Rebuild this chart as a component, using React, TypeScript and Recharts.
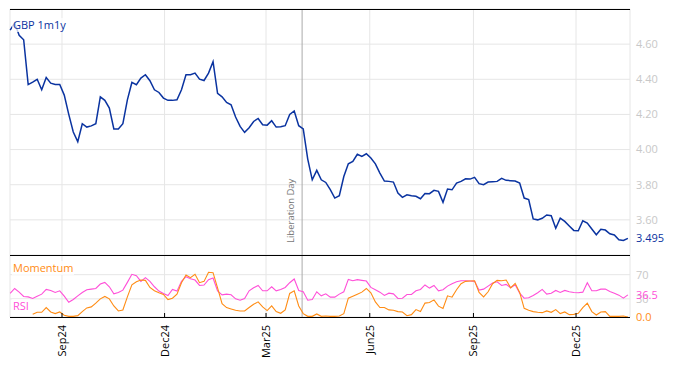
import { LineChart, Line, XAxis, YAxis, CartesianGrid, ReferenceLine } from "recharts";

// sampled every 4 calendar days from 17 Jul 2024
const START = Date.UTC(2024, 6, 17);
const STEP_DAYS = 4;
const DAY = 86400000;

const gbp1m1y = [
  4.68, 4.72, 4.65, 4.625, 4.37, 4.384, 4.4, 4.34, 4.41, 4.378,
  4.37, 4.37, 4.31, 4.2, 4.1, 4.045, 4.147, 4.128, 4.135, 4.147,
  4.3, 4.28, 4.236, 4.117, 4.117, 4.147, 4.283, 4.382, 4.369, 4.407,
  4.426, 4.392, 4.34, 4.325, 4.293, 4.28, 4.28, 4.283, 4.34, 4.426,
  4.426, 4.435, 4.401, 4.393, 4.435, 4.5, 4.32, 4.3, 4.268, 4.255,
  4.185, 4.132, 4.098, 4.124, 4.16, 4.177, 4.141, 4.139, 4.164, 4.128,
  4.13, 4.136, 4.2, 4.22, 4.136, 4.117, 3.946, 3.828, 3.882, 3.828,
  3.813, 3.772, 3.724, 3.737, 3.847, 3.919, 3.933, 3.973, 3.961, 3.976,
  3.952, 3.919, 3.866, 3.821, 3.819, 3.815, 3.753, 3.728, 3.743, 3.737,
  3.734, 3.72, 3.75, 3.749, 3.768, 3.762, 3.7, 3.775, 3.771, 3.809,
  3.819, 3.834, 3.832, 3.842, 3.806, 3.8, 3.815, 3.817, 3.819, 3.836,
  3.825, 3.823, 3.821, 3.809, 3.724, 3.715, 3.605, 3.6, 3.609, 3.628,
  3.624, 3.552, 3.61, 3.591, 3.565, 3.54, 3.538, 3.595, 3.582, 3.548,
  3.515, 3.546, 3.542, 3.521, 3.514, 3.487, 3.483, 3.495,
];

const rsi = [
  38.9, 47.2, 41.1, 33.9, 33.3, 30.6, 34.4, 37.8, 45.6, 43.9,
  40.6, 43.3, 34.4, 24.4, 28.9, 35.0, 40.6, 45.0, 46.1, 47.2,
  54.4, 57.2, 50.0, 38.3, 40.6, 44.4, 57.2, 70.6, 68.3, 58.9,
  65.0, 58.9, 50.0, 42.8, 38.9, 35.6, 45.6, 42.8, 58.9, 66.7,
  63.3, 61.1, 52.2, 52.8, 61.7, 64.4, 43.0, 36.7, 37.8, 36.7,
  30.0, 27.8, 30.6, 43.3, 48.3, 52.2, 43.3, 43.3, 50.0, 43.3,
  45.6, 48.9, 56.7, 62.8, 43.9, 41.7, 27.8, 28.9, 41.7, 35.0,
  38.3, 32.8, 32.8, 37.8, 41.7, 62.2, 60.0, 61.7, 60.6, 59.4,
  48.9, 45.0, 41.1, 35.6, 39.4, 38.3, 30.6, 31.1, 37.2, 37.2,
  43.3, 45.6, 53.0, 47.8, 52.2, 43.3, 45.0, 51.1, 55.0, 58.3,
  60.0, 60.0, 59.4, 58.9, 44.4, 46.1, 51.1, 56.1, 58.3, 52.2,
  53.9, 48.3, 53.3, 39.4, 31.1, 31.7, 35.6, 40.0, 45.6, 37.8,
  39.4, 43.9, 40.6, 43.9, 41.7, 40.6, 40.0, 41.1, 56.7, 43.3,
  43.3, 46.1, 46.1, 42.2, 39.4, 36.1, 31.1, 36.5,
];

const momentum = [
  null, null, null, null, null, 4.4, 7.8, 7.8, 15.6, 8.3,
  5.6, 8.3, 2.8, 1.1, 1.1, 2.2, 8.9, 15.0, 16.7, 22.8,
  30.0, 33.9, 30.0, 18.3, 10.0, 11.7, 33.3, 53.3, 58.3, 61.1,
  60.6, 48.9, 43.3, 40.0, 37.2, 28.9, 31.1, 37.8, 56.7, 69.4,
  65.0, 70.6, 56.7, 58.9, 73.9, 73.3, 48.0, 22.2, 15.6, 13.3,
  11.1, 10.0, 10.0, 15.6, 21.1, 25.0, 16.7, 10.6, 18.3, 8.9,
  6.1, 11.7, 38.9, 43.3, 18.3, 5.6, 1.1, 1.1, 5.0, 1.1,
  1.7, 1.1, 1.1, 1.7, 5.6, 31.1, 34.4, 37.8, 41.1, 47.2,
  40.0, 25.0, 15.6, 15.6, 11.7, 11.1, 8.9, 8.3, 2.2, 3.9,
  12.2, 8.9, 23.0, 23.9, 28.3, 18.0, 14.0, 35.0, 32.8, 45.0,
  55.0, 58.9, 59.4, 60.0, 40.6, 33.3, 41.7, 55.0, 60.6, 60.0,
  61.1, 48.3, 55.6, 40.6, 14.4, 11.1, 8.9, 7.8, 7.2, 10.0,
  7.8, 12.2, 5.6, 8.3, 3.9, 4.4, 6.1, 15.6, 22.8, 8.9,
  3.3, 8.3, 8.9, 1.1, 1.1, 1.1, 1.7, 0.0,
];

const tickDates = [
  Date.UTC(2024, 8, 1), Date.UTC(2024, 11, 1), Date.UTC(2025, 2, 1),
  Date.UTC(2025, 5, 1), Date.UTC(2025, 8, 1), Date.UTC(2025, 11, 1),
];
const tickLabels = ["Sep24", "Dec24", "Mar25", "Jun25", "Sep25", "Dec25"];
const liberationDay = Date.UTC(2025, 3, 2);

const priceTicks = [3.6, 3.8, 4.0, 4.2, 4.4, 4.6];
const oscTicks = [30, 70];

const xDomain = [Date.UTC(2024, 6, 16, 21), Date.UTC(2026, 0, 17, 21)];

const BLUE = "#0a33a0";
const ORANGE = "#ff8c14";
const PINK = "#ff4fd8";
const GRID = "#e6e6e6";
const FONT = "'Open Sans', sans-serif";

const data = gbp1m1y.map((v, i) => ({
  date: START + i * STEP_DAYS * DAY,
  gbp: v,
  rsi: rsi[i],
  momentum: momentum[i],
}));

// small inward tick on the bottom edge of the price panel
function TopTick(props: any) {
  const { x, y } = props;
  return <rect x={x - 0.5} y={y - 5} width={1} height={5} fill="#000" />;
}

function DateTick(props: any) {
  const { x, y, payload } = props;
  const i = tickDates.indexOf(payload.value);
  const tx = x + 4;
  const ty = y + 8;
  return (
    <g>
      <rect x={x - 0.5} y={y - 4} width={1} height={4} fill="#000" />
      <text x={tx} y={ty} transform={`rotate(-90, ${tx}, ${ty})`} textAnchor="end" fontSize={11} fill="#000">
        {tickLabels[i]}
      </text>
    </g>
  );
}

function LibLabel(props: any) {
  const { viewBox } = props;
  const x = viewBox.x - 8;
  const y = viewBox.y + viewBox.height - 12;
  return (
    <text x={x} y={y} transform={`rotate(-90, ${x}, ${y})`} fontSize={9.5} fill="#777">
      Liberation Day
    </text>
  );
}

const tagStyle = (top: number, color: string): any => ({
  position: "absolute",
  left: 12,
  top,
  fontSize: 11,
  lineHeight: "14px",
  color,
  background: "rgba(255,255,255,0.75)",
  padding: "0 1px",
});

// panel frame lines
const rule = (top: number): any => ({
  position: "absolute",
  left: 10,
  top,
  width: 620,
  height: 1,
  background: "#000",
});

export default function App() {
  return (
    <div style={{ position: "absolute", left: 0, top: 0, width: 674, height: 366, background: "#fff", fontFamily: FONT }}>
      <div style={{ position: "absolute", left: 0, top: 0 }}>
        <LineChart width={674} height={256} data={data} margin={{ top: 9, right: 0, bottom: 1, left: 10 }}>
          <CartesianGrid stroke={GRID} />
          <XAxis
            dataKey="date"
            type="number"
            domain={xDomain}
            ticks={tickDates}
            interval={0}
            tick={<TopTick />}
            tickSize={0}
            tickMargin={0}
            height={0}
            axisLine={false}
            tickLine={false}
          />
          <YAxis
            orientation="right"
            width={44}
            domain={[3.4, 4.8]}
            ticks={priceTicks}
            tickFormatter={(v: number) => v.toFixed(2)}
            axisLine={false}
            tickLine={false}
            tickSize={6}
            tickMargin={0}
            tick={{ fill: "#c8c8c8", fontSize: 11 }}
          />
          <ReferenceLine x={liberationDay} stroke="#aaa" label={<LibLabel />} />
          <ReferenceLine
            y={3.495}
            stroke="none"
            label={{ value: "3.495", position: "right", fill: BLUE, fontSize: 11, offset: 6 }}
          />
          <Line dataKey="gbp" stroke={BLUE} strokeWidth={1.5} dot={false} isAnimationActive={false} />
        </LineChart>
      </div>
      <div style={{ position: "absolute", left: 0, top: 255 }}>
        <LineChart width={674} height={111} data={data} margin={{ top: 0, right: 0, bottom: 0, left: 10 }}>
          <CartesianGrid stroke={GRID} />
          <XAxis
            dataKey="date"
            type="number"
            domain={xDomain}
            ticks={tickDates}
            interval={0}
            tick={<DateTick />}
            tickSize={0}
            tickMargin={0}
            height={49}
            axisLine={false}
            tickLine={false}
          />
          <YAxis
            orientation="right"
            width={44}
            domain={[0, 102.5]}
            ticks={oscTicks}
            axisLine={false}
            tickLine={false}
            tickSize={6}
            tickMargin={0}
            tick={{ fill: "#c8c8c8", fontSize: 11 }}
          />
          <ReferenceLine x={liberationDay} stroke="#aaa" />
          <ReferenceLine
            y={36.5}
            stroke="none"
            label={{ value: "36.5", position: "right", fill: PINK, fontSize: 11, offset: 6 }}
          />
          <ReferenceLine
            y={0}
            stroke="none"
            label={{ value: "0.0", position: "right", fill: ORANGE, fontSize: 11, offset: 6 }}
          />
          <Line dataKey="rsi" stroke={PINK} strokeWidth={1.1} dot={false} isAnimationActive={false} />
          <Line dataKey="momentum" stroke={ORANGE} strokeWidth={1.1} dot={false} isAnimationActive={false} />
        </LineChart>
      </div>
      <div style={rule(9)} />
      <div style={rule(255)} />
      <div style={rule(317)} />
      <div style={tagStyle(18, BLUE)}>GBP 1m1y</div>
      <div style={tagStyle(261, ORANGE)}>Momentum</div>
      <div style={tagStyle(299, PINK)}>RSI</div>
    </div>
  );
}
